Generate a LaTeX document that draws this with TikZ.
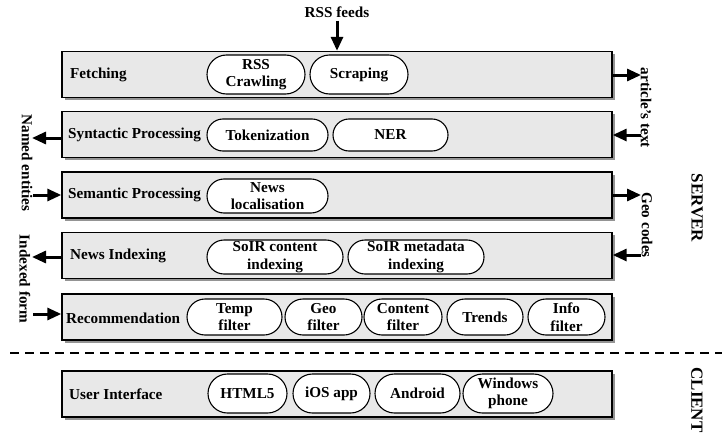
\documentclass[tikz,border=0pt]{standalone}
\usepackage{fontspec}
\setmainfont{Liberation Serif}
\usepackage{tikz}
\usetikzlibrary{shapes, shapes.misc, shadows, arrows.meta}
\definecolor{layerfill}{RGB}{232,232,232}
\newcommand{\btxt}{\fontsize{15.2}{17.5}\selectfont\bfseries}
\newcommand{\bigtxt}{\fontsize{17}{19}\selectfont\bfseries}
\tikzstyle{layer}=[rectangle, draw, line width=1.4pt, fill=layerfill, minimum width=550pt, minimum height=46pt, inner sep=0, drop shadow={shadow xshift=2.5pt, shadow yshift=-2.5pt, opacity=.6, fill=black!70}]
\tikzstyle{module}=[rounded rectangle, draw, line width=1.1pt, fill=white, inner sep=0, align=center, font=\btxt]
\tikzstyle{lbl}=[anchor=west, font=\btxt, inner sep=0]
\tikzstyle{side}=[rotate=-90, align=center, font=\btxt, inner sep=0]
\tikzstyle{arr}=[line width=3pt, -{Triangle[length=14pt, width=12pt]}]

\begin{document}
\begin{tikzpicture}[x=1pt, y=-1pt]
\useasboundingbox (0,0) rectangle (722,436);

\node[layer] (fetch) at (337,74.5) {};
\node[layer] (syn) at (337,134.5) {};
\node[layer] (sem) at (337,195) {};
\node[layer] (idx) at (337,255.5) {};
\node[layer] (rec) at (337,317) {};
\node[layer] (ui) at (337,394) {};

\node[lbl] (fetchl) at (70,74.5) {Fetching};
\node[lbl] (synl) at (68,134.5) {Syntactic Processing};
\node[lbl] (seml) at (68,195) {Semantic Processing};
\node[lbl] (idxl) at (70,255.5) {News Indexing};
\node[lbl] (recl) at (66,318) {Recommendation};
\node[lbl] (uil) at (69,394) {User Interface};

\node[module, minimum width=98pt, minimum height=39pt] (rsscr) at (256,74.5) {RSS\\Crawling};
\node[module, minimum width=98pt, minimum height=39pt] (scrap) at (359,74.5) {Scraping};
\node[module, minimum width=121pt, minimum height=32pt] (tok) at (267.5,135) {Tokenization};
\node[module, minimum width=115pt, minimum height=32pt] (ner) at (390.5,135) {NER};
\node[module, minimum width=121pt, minimum height=34pt] (loc) at (267.5,196) {News\\localisation};
\node[module, minimum width=136pt, minimum height=34pt] (solrc) at (275,257) {SoIR content\\indexing};
\node[module, minimum width=136pt, minimum height=34pt] (solrm) at (416,257) {SoIR metadata\\indexing};
\node[module, minimum width=95pt, minimum height=36pt] (temp) at (234.5,317) {Temp\\filter};
\node[module, minimum width=77pt, minimum height=36pt] (geof) at (323.5,317) {Geo\\filter};
\node[module, minimum width=78pt, minimum height=36pt] (cont) at (403,317) {Content\\filter};
\node[module, minimum width=76pt, minimum height=36pt] (trends) at (485,317) {Trends};
\node[module, minimum width=77pt, minimum height=36pt] (info) at (566.5,317) {Info\\filter};
\node[module, minimum width=79pt, minimum height=39pt] (html) at (247.5,393.5) {HTML5};
\node[module, minimum width=77pt, minimum height=39pt] (ios) at (331.5,393.5) {iOS app};
\node[module, minimum width=85pt, minimum height=39pt] (andr) at (417.5,393.5) {Android};
\node[module, minimum width=90pt, minimum height=39pt] (winph) at (508,393.5) {Windows\\phone};

\node[font=\btxt, inner sep=3pt] (rss) at (337,12) {RSS feeds};
\draw[arr] (rss.south) -- (fetch.north);

\coordinate (artout) at (641,75);
\coordinate (artin) at (641,135);
\draw[arr] (fetch.east |- artout) -- (artout);
\draw[arr] (artin) -- (syn.east |- artin);
\node[side] (art) at (646,108) {article's text};
\coordinate (geoout) at (641,195);
\coordinate (geoin) at (641,255);
\draw[arr] (sem.east |- geoout) -- (geoout);
\draw[arr] (geoin) -- (idx.east |- geoin);
\node[side] (geoc) at (647,225) {Geo codes};

\coordinate (namedout) at (32,138);
\coordinate (namedin) at (33,195);
\draw[arr] (syn.west |- namedout) -- (namedout);
\draw[arr] (namedin) -- (sem.west |- namedin);
\node[side] (named) at (27,163) {Named entities};
\coordinate (indexout) at (32,257);
\coordinate (indexin) at (33,314);
\draw[arr] (idx.west |- indexout) -- (indexout);
\draw[arr] (indexin) -- (rec.west |- indexin);
\node[side] (indexed) at (25,279) {Indexed form};

\coordinate (sepl) at (10,353);
\coordinate (sepr) at (722,353);
\draw[dash pattern=on 9pt off 6pt, line width=1.2pt] (sepl) -- (sepr);

\node[side, font=\bigtxt] (server) at (697,208) {SERVER};
\node[side, font=\bigtxt] (client) at (697,400) {CLIENT};
\end{tikzpicture}
\end{document}
